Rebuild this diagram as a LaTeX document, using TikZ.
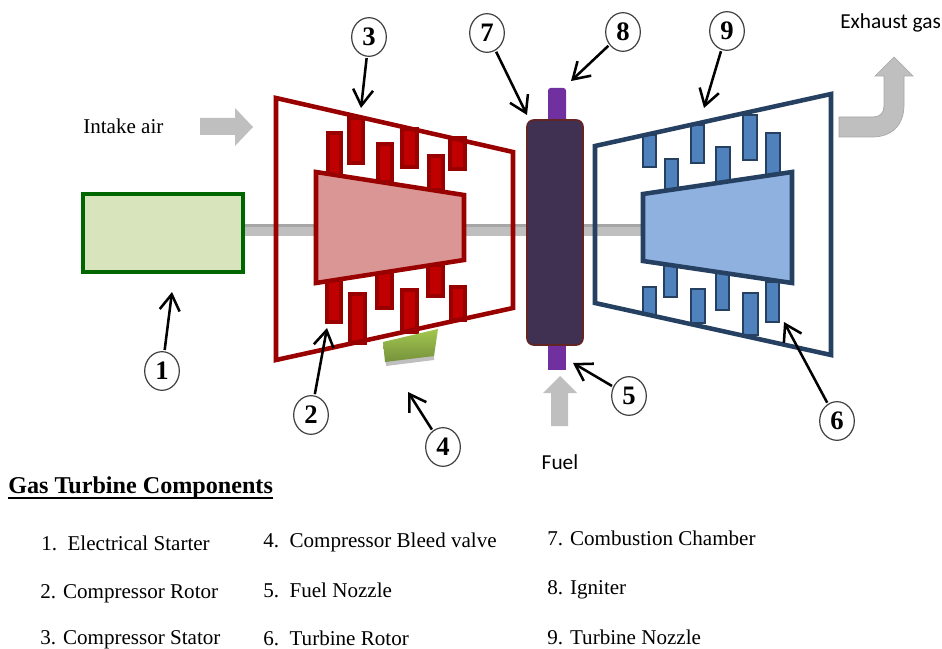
\documentclass[tikz,border=0pt]{standalone}
\usepackage{fontspec}
\setmainfont{Liberation Serif}
\newfontfamily\labelfont{Carlito}
\definecolor{ink}{HTML}{000000}
\definecolor{compline}{HTML}{990000}
\definecolor{compblade}{HTML}{C00000}
\definecolor{comprotor}{HTML}{D99694}
\definecolor{turbline}{HTML}{254061}
\definecolor{turbblade}{HTML}{4F81BD}
\definecolor{turbrotor}{HTML}{8EB1E0}
\definecolor{flowgray}{HTML}{BFBFBF}
\definecolor{flowedge}{HTML}{A6A6A6}
\definecolor{chamber}{HTML}{403152}
\definecolor{chamberline}{HTML}{632423}
\definecolor{nozzle}{HTML}{7030A0}
\definecolor{starterfill}{HTML}{D7E4BC}
\definecolor{starterline}{HTML}{006600}
\definecolor{valvetop}{HTML}{A2C64E}
\definecolor{valvebot}{HTML}{76923C}
\usetikzlibrary{
  arrows.meta,
  shapes.geometric
}
\tikzset{
  every node/.style={text=ink, inner sep=0pt},
  casingC/.style={draw=compline, line width=3.4pt, line join=miter},
  rotorC/.style={casingC, fill=comprotor},
  bladeC/.style={draw=compline, fill=compblade, line width=3pt},
  casingT/.style={draw=turbline, line width=3.4pt, line join=miter},
  rotorT/.style={casingT, fill=turbrotor},
  bladeT/.style={draw=turbline, fill=turbblade, line width=1.4pt},
  flow/.style={fill=flowgray, draw=flowedge, line width=0.5pt},
  callnum/.style={ellipse, draw=ink!75, fill=white, line width=0.9pt, minimum width=26pt, minimum height=29pt,
    font=\fontsize{20}{20}\selectfont\bfseries},
  callout/.style={-{Straight Barb[length=12pt, width=15pt, line width=1.9pt]}, line width=1.9pt, draw=ink, shorten <=1pt},
  annot/.style={anchor=base west, font=\fontsize{15.8}{18}\selectfont},
  annotsans/.style={font=\labelfont\fontsize{16}{18}\selectfont}
}
\begin{document}
\begin{tikzpicture}[x=0.75pt, y=-0.75pt]
  \useasboundingbox (0,0) rectangle (942,649);

  % Shaft and starter
  \fill[flowgray] (245,224) rectangle (645,236);
  \fill[flowedge] (245,224) rectangle (645,227);
  \draw[draw=starterline, fill=starterfill, line width=3.2pt] (83,194) rectangle (243,272);

  % Compressor stator and rotor blades
  \draw[bladeC] (328,133) rectangle (341,176);
  \draw[bladeC] (349,118) rectangle (363,163);
  \draw[bladeC] (378,144) rectangle (392,182);
  \draw[bladeC] (402,129) rectangle (417,167);
  \draw[bladeC] (429,156) rectangle (443,190);
  \draw[bladeC] (450,138) rectangle (465,169);
  \draw[bladeC] (327,280) rectangle (341,322);
  \draw[bladeC] (350,294) rectangle (365,343);
  \draw[bladeC] (377,272) rectangle (392,308);
  \draw[bladeC] (402,290) rectangle (417,332);
  \draw[bladeC] (428,265) rectangle (443,296);
  \draw[bladeC] (451,287) rectangle (465,320);

  % Compressor casing and rotor
  \draw[casingC] (276,98) -- (513,152) -- (513,308) -- (276,360) -- cycle;
  \draw[rotorC] (316,172) -- (464,195) -- (464,260) -- (316,283) -- cycle;

  % Bleed valve
  \fill[flowgray] (385,355) -- (434,350) -- (434,360) -- (386,366) -- cycle;
  \shade[top color=valvetop, bottom color=valvebot] (383,342) -- (438,329) -- (434,356) -- (385,362) -- cycle;

  % Combustion chamber
  \draw[draw=none, fill=nozzle, rounded corners=2pt] (548,88) rectangle (566,125);
  \fill[nozzle] (548,340) rectangle (566,370);
  \draw[draw=chamberline, fill=chamber, line width=1.2pt, rounded corners=5pt] (527,120) rectangle (583,345);

  % Turbine blades
  \draw[bladeT] (643,135) rectangle (656,167);
  \draw[bladeT] (665,159) rectangle (678,190);
  \draw[bladeT] (691,125) rectangle (704,163);
  \draw[bladeT] (716,147) rectangle (730,182);
  \draw[bladeT] (743,115) rectangle (757,160);
  \draw[bladeT] (766,133) rectangle (780,175);
  \draw[bladeT] (664,265) rectangle (677,297);
  \draw[bladeT] (643,287) rectangle (656,315);
  \draw[bladeT] (691,289) rectangle (705,323);
  \draw[bladeT] (716,272) rectangle (729,310);
  \draw[bladeT] (743,293) rectangle (758,335);
  \draw[bladeT] (766,282) rectangle (779,322);

  % Turbine casing and rotor
  \draw[casingT] (595,146) -- (831,94) -- (831,355) -- (595,303) -- cycle;
  \draw[rotorT] (643,194) -- (792,172) -- (792,283) -- (643,261) -- cycle;

  % Gas flow arrows
  \fill[flowgray] (200,118) -- (235,118) -- (235,108) -- (253,127) -- (235,146) -- (235,135) -- (200,135) -- cycle;
  \fill[flowgray] (551,426) -- (551,393) -- (543,393) -- (560,376) -- (577,393) -- (568,393) -- (568,426) -- cycle;
  \draw[flow] (839,117) -- (873,117) .. controls (880,117) and (884,113) .. (884,106) -- (884,76) -- (875,76)
    -- (894,57) -- (913,76) -- (904,76) -- (904,105) .. controls (904,125) and (892,137) .. (872,137) -- (839,137) -- cycle;

  % Gas labels
  \node[annot] (intake) at (83,134) {Intake air};
  \node[annotsans, anchor=west] (exhaust) at (840,23) {Exhaust gas};
  \node[annotsans] (fuel) at (560,462) {Fuel};

  % Numbered callouts
  \node[callnum] (n1) at (162,371) {1};
  \node[callnum] (n2) at (311,415) {2};
  \node[callnum] (n3) at (369,37) {3};
  \node[callnum] (n4) at (443,447) {4};
  \node[callnum] (n5) at (629,396) {5};
  \node[callnum] (n6) at (837,421) {6};
  \node[callnum] (n7) at (487,33) {7};
  \node[callnum] (n8) at (623,32) {8};
  \node[callnum] (n9) at (727,31) {9};

  \coordinate (t1) at (172,292);
  \coordinate (t2) at (327,328);
  \coordinate (t3) at (361,108);
  \coordinate (t4) at (408,392);
  \coordinate (t5) at (573,363);
  \coordinate (t6) at (784,322);
  \coordinate (t7) at (527,115);
  \coordinate (t8) at (571,81);
  \coordinate (t9) at (704,108);

  \draw[callout] (n1) -- (t1);
  \draw[callout] (n2) -- (t2);
  \draw[callout] (n3) -- (t3);
  \draw[callout] (n4) -- (t4);
  \draw[callout] (n5) -- (t5);
  \draw[callout] (n6) -- (t6);
  \draw[callout] (n7) -- (t7);
  \draw[callout] (n8) -- (t8);
  \draw[callout] (n9) -- (t9);

  % Component list
  \node[anchor=base west, font=\fontsize{18.1}{20}\selectfont\bfseries] (heading) at (8,493) {Gas Turbine Components};
  \draw[line width=1.5pt] (heading.south west) -- (heading.south east);
  \node[annot] (c1) at (41,550) {1.\ \ Electrical Starter};
  \node[annot] (c2) at (40,598) {2. Compressor Rotor};
  \node[annot] (c3) at (40,644) {3. Compressor Stator};
  \node[annot] (c4) at (263,547) {4.\ \ Compressor Bleed valve};
  \node[annot] (c5) at (263,597) {5.\ \ Fuel Nozzle};
  \node[annot] (c6) at (263,645) {6.\ \ Turbine Rotor};
  \node[annot] (c7) at (547,545) {7. Combustion Chamber};
  \node[annot] (c8) at (547,594) {8. Igniter};
  \node[annot] (c9) at (547,644) {9. Turbine Nozzle};
\end{tikzpicture}
\end{document}
